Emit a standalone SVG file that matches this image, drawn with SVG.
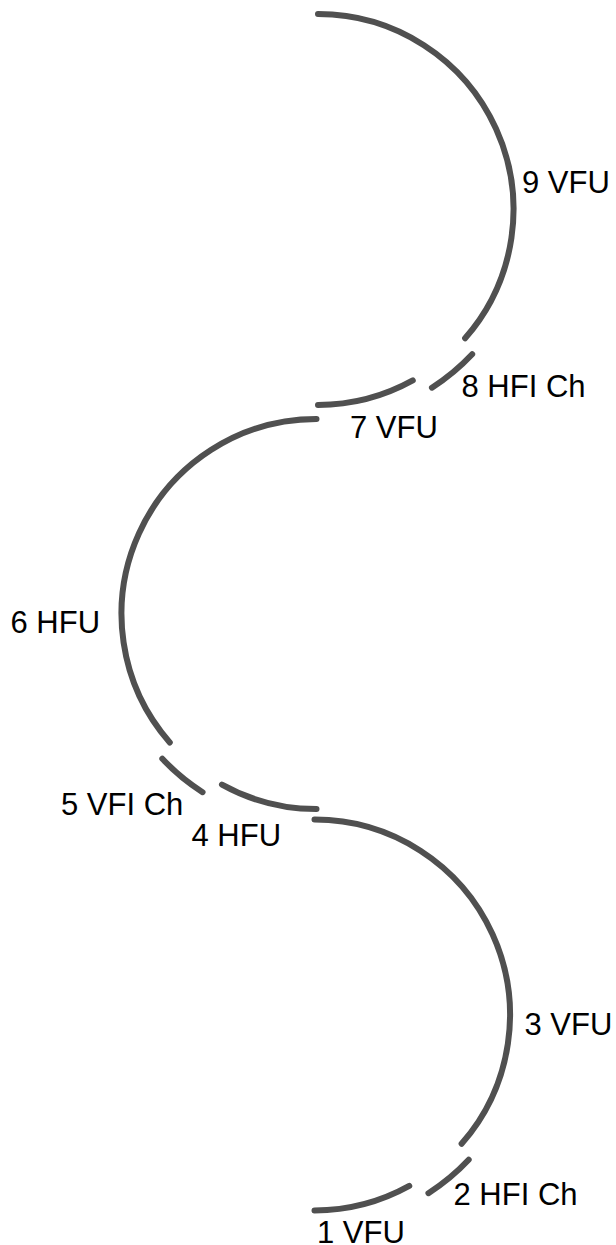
<svg xmlns="http://www.w3.org/2000/svg" width="616" height="1245" viewBox="0 0 616 1245">
<style>
.seg{fill:none;stroke:#505050;stroke-width:6;stroke-linecap:round}
.lbl{font-family:"Liberation Sans",Arial,sans-serif;font-size:31px;fill:#000}
</style>
<rect width="616" height="1245" fill="#fff"/>
<g id="n9"><path class="seg" d="M318,14 A195.5,195.5 0 0 1 465.09,338.28"/><text class="lbl" x="522" y="193">9 VFU</text></g>
<g id="n8"><path class="seg" d="M472.18,354.28 A211.5,211.5 0 0 1 431.95,387.68"/><text class="lbl" x="461.5" y="397">8 HFI Ch</text></g>
<g id="n7"><path class="seg" d="M412.78,380.49 A195.5,195.5 0 0 1 318,405"/><text class="lbl" x="350" y="437.5">7 VFU</text></g>
<g id="n6"><path class="seg" d="M316.5,419 A195,195 0 0 0 169.79,742.45"/><text class="lbl" x="10.5" y="633">6 HFU</text></g>
<g id="n5"><path class="seg" d="M162.32,758.78 A211.5,211.5 0 0 0 202.55,792.18"/><text class="lbl" x="61" y="814.5">5 VFI Ch</text></g>
<g id="n4"><path class="seg" d="M221.96,784.55 A195,195 0 0 0 316.5,809"/><text class="lbl" x="191.5" y="846">4 HFU</text></g>
<g id="n3"><path class="seg" d="M314.5,819.5 A195.5,195.5 0 0 1 461.59,1143.78"/><text class="lbl" x="524.5" y="1035">3 VFU</text></g>
<g id="n2"><path class="seg" d="M468.68,1159.78 A211.5,211.5 0 0 1 428.45,1193.18"/><text class="lbl" x="453.5" y="1205">2 HFI Ch</text></g>
<g id="n1"><path class="seg" d="M409.28,1185.99 A195.5,195.5 0 0 1 314.5,1210.5"/><text class="lbl" x="317" y="1243">1 VFU</text></g>
<g id="connectors"/>
</svg>
